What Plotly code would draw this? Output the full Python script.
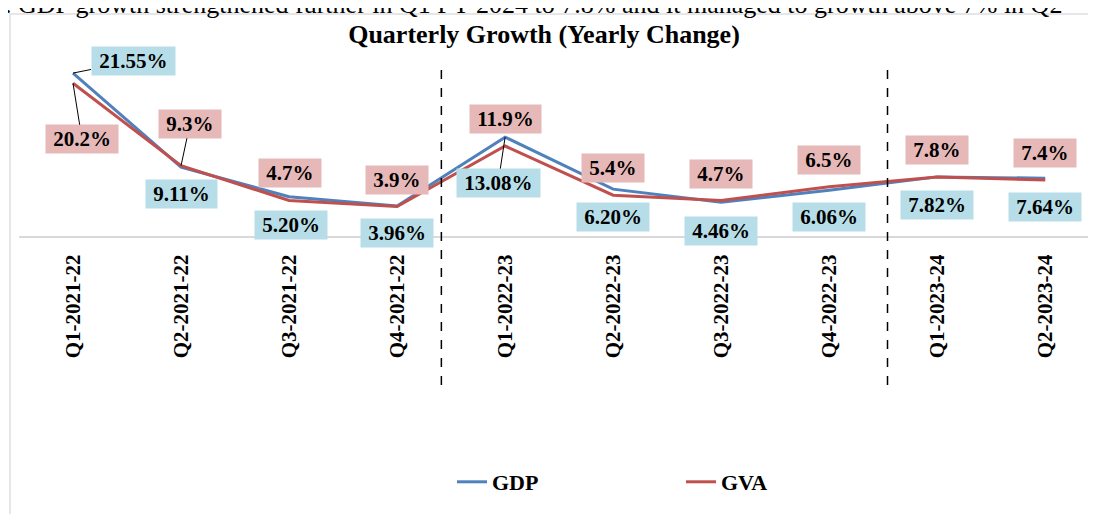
import plotly.graph_objects as go

quarters = ["Q1-2021-22", "Q2-2021-22", "Q3-2021-22", "Q4-2021-22",
            "Q1-2022-23", "Q2-2022-23", "Q3-2022-23", "Q4-2022-23",
            "Q1-2023-24", "Q2-2023-24"]
gdp = [21.55, 9.11, 5.20, 3.96, 13.08, 6.20, 4.46, 6.06, 7.82, 7.64]
gva = [20.2, 9.3, 4.7, 3.9, 11.9, 5.4, 4.7, 6.5, 7.8, 7.4]

title_text = "Quarterly Growth (Yearly Change)"
page_text = "0. GDP growth strengthened further in Q1 FY 2024 to 7.8% and it managed to growth above 7% in Q2"
separators = [3.41, 7.54]  # positions of dashed period separators (category units)

# label offsets (pixels) relative to points: (dx, dy, leader)
gdp_off = [(60, -12, True), (0, 27, False), (2, 28, False), (0, 27, False), (-7, 46, True),
           (0, 28, False), (0, 29, False), (0, 27, False), (0, 28, False), (0, 29, False)]
gva_off = [(9, 56, True), (9, -42, True), (1, -27, False), (0, -27, False), (0, -27, False),
           (0, -27, False), (0, -26, False), (0, -27, False), (0, -27, False), (0, -27, False)]

FONT = "Liberation Serif, Times New Roman, serif"
BLUE = "#4F81BD"
RED = "#C0504D"
BLUE_BG = "#B7DEE8"
RED_BG = "#E6B9B8"

fig = go.Figure()
fig.add_trace(go.Scatter(x=quarters, y=gdp, mode="lines", name="<b>GDP</b>",
                         line=dict(color=BLUE, width=3)))
fig.add_trace(go.Scatter(x=quarters, y=gva, mode="lines", name="<b>GVA</b>",
                         line=dict(color=RED, width=3), legend="legend2"))

nb = "\u00a0"
annotations = []
for q, v, (dx, dy, lead) in zip(quarters, gdp, gdp_off):
    annotations.append(dict(x=q, y=v, ax=dx, ay=dy, text=f"<b>{nb}{v:.2f}%{nb}</b>",
                            showarrow=True, arrowhead=0, arrowwidth=1,
                            arrowcolor="black" if lead else "rgba(0,0,0,0)",
                            bgcolor=BLUE_BG, borderpad=2,
                            font=dict(family=FONT, size=21, color="black")))
for q, v, (dx, dy, lead) in zip(quarters, gva, gva_off):
    annotations.append(dict(x=q, y=v, ax=dx, ay=dy, text=f"<b>{nb}{v:.1f}%{nb}</b>",
                            showarrow=True, arrowhead=0, arrowwidth=1,
                            arrowcolor="black" if lead else "rgba(0,0,0,0)",
                            bgcolor=RED_BG, borderpad=2,
                            font=dict(family=FONT, size=21, color="black")))
# page text cut at the top
annotations.append(dict(xref="paper", yref="paper", x=-29 / 1077, y=(236 - 5) / 189,
                        xanchor="left", yanchor="middle", showarrow=False,
                        text=page_text, font=dict(family=FONT, size=26, color="black")))

shapes = []
for s in separators:
    shapes.append(dict(type="line", xref="x", yref="paper", x0=s, x1=s,
                       y0=(236 - 385) / 189, y1=(236 - 63) / 189,
                       line=dict(color="black", width=1.5, dash="dash")))
# chart border
shapes.append(dict(type="rect", xref="paper", yref="paper",
                   x0=(10 - 19) / 1077, x1=1.2, y0=-2.0, y1=(236 - 14) / 189,
                   line=dict(color="#E6E6E6", width=2), fillcolor="rgba(0,0,0,0)",
                   layer="below"))

# the page body adds an 8px offset, so figure pixels = screen pixels - 8
fig.update_layout(
    width=1096, height=514,
    margin=dict(l=11, r=8, t=39, b=286, autoexpand=False),
    paper_bgcolor="white", plot_bgcolor="white",
    title=dict(text=f"<b>{title_text}</b>", x=536 / 1096, xref="container",
               y=1 - 26 / 514, yref="container", xanchor="center", yanchor="middle",
               font=dict(family=FONT, size=26, color="black"),
               automargin=False),
    xaxis=dict(range=[-0.5, 9.47], showgrid=False, showline=True,
               linecolor="#D9D9D9", linewidth=2, tickangle=-90, ticks="",
               ticklabelstandoff=8, automargin=False,
               tickfont=dict(family=FONT, size=21, color="black", weight="bold")),
    yaxis=dict(range=[0, 25], visible=False, showgrid=False, zeroline=False,
               automargin=False),
    legend=dict(orientation="h", x=(452 - 19) / 1077, y=(236 - 482) / 189,
                xanchor="left", yanchor="middle", bgcolor="rgba(0,0,0,0)",
                font=dict(family=FONT, size=22, color="black")),
    legend2=dict(orientation="h", x=(681 - 19) / 1077, y=(236 - 482) / 189,
                 xanchor="left", yanchor="middle", bgcolor="rgba(0,0,0,0)",
                 font=dict(family=FONT, size=22, color="black")),
    annotations=annotations, shapes=shapes, showlegend=True,
)

fig.write_html("out.html")
